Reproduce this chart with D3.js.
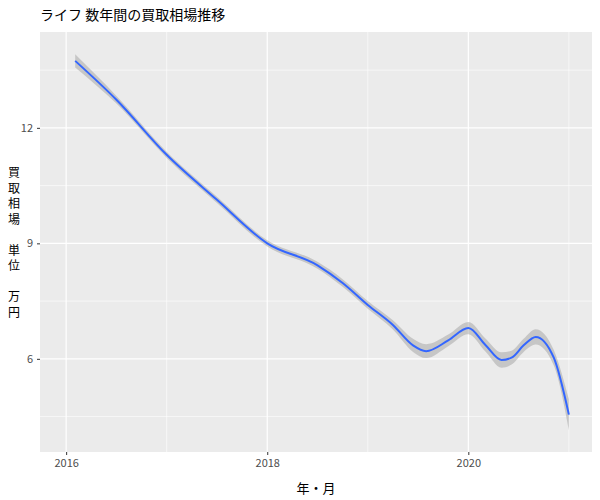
<!DOCTYPE html>
<html><head><meta charset="utf-8">
<script src="https://cdn.jsdelivr.net/npm/d3@7"></script>
<style>body{margin:0;background:#fff}text{font-family:"Noto Sans CJK JP",sans-serif}</style>
</head><body><div id="chart"></div>
<script>
// smoothed fit
var years = [2016.09, 2016.5, 2017.0, 2017.5, 2018.0, 2018.5, 2018.75, 2019.0, 2019.25, 2019.45, 2019.58, 2019.8, 2020.0, 2020.17, 2020.33, 2020.43, 2020.55, 2020.67, 2020.85, 2021.0];
var fit   = [13.74, 12.73, 11.3, 10.13, 9.0, 8.43, 7.97, 7.4, 6.88, 6.35, 6.2, 6.48, 6.8, 6.36, 5.97, 6.03, 6.35, 6.57, 6.03, 4.55];
var se    = [0.17, 0.1, 0.08, 0.08, 0.08, 0.09, 0.1, 0.1, 0.12, 0.17, 0.18, 0.15, 0.16, 0.17, 0.2, 0.18, 0.17, 0.2, 0.2, 0.4];
var xTicks = [2016, 2018, 2020];
var xMinor = [2017, 2019, 2021];
var yTicks = [6, 9, 12];
var yMinor = [4.5, 7.5, 10.5, 13.5];
var yLabel = ["買", "取", "相", "場", "", "単", "位", "", "万", "円"];

var margin = {top: 32, right: 8, bottom: 48, left: 40};
var width = 600 - margin.left - margin.right,
    height = 500 - margin.top - margin.bottom;

var svg = d3.select("#chart").append("svg").attr("width", 600).attr("height", 500);
var g = svg.append("g").attr("transform", "translate(" + margin.left + "," + margin.top + ")");

var x = d3.scaleLinear().domain([2015.74, 2021.23]).range([0, width]);
var y = d3.scaleLinear().domain([3.58, 14.49]).range([height, 0]);

g.append("rect").attr("width", width).attr("height", height).attr("fill", "#ebebeb");

g.selectAll(".vmin").data(xMinor).enter().append("line")
  .attr("x1", x).attr("x2", x).attr("y1", 0).attr("y2", height)
  .attr("stroke", "#fff").attr("stroke-width", 0.6);
g.selectAll(".hmin").data(yMinor).enter().append("line")
  .attr("y1", y).attr("y2", y).attr("x1", 0).attr("x2", width)
  .attr("stroke", "#fff").attr("stroke-width", 0.6);
g.selectAll(".vmaj").data(xTicks).enter().append("line")
  .attr("x1", x).attr("x2", x).attr("y1", 0).attr("y2", height)
  .attr("stroke", "#fff").attr("stroke-width", 1.2);
g.selectAll(".hmaj").data(yTicks).enter().append("line")
  .attr("y1", y).attr("y2", y).attr("x1", 0).attr("x2", width)
  .attr("stroke", "#fff").attr("stroke-width", 1.2);

var pts = years.map(function(d, i){ return {t: d, v: fit[i], s: se[i]}; });

g.append("path").datum(pts)
  .attr("fill", "#999").attr("opacity", 0.45)
  .attr("d", d3.area().curve(d3.curveMonotoneX)
    .x(function(d){ return x(d.t); })
    .y0(function(d){ return y(d.v - d.s); })
    .y1(function(d){ return y(d.v + d.s); }));

g.append("path").datum(pts)
  .attr("fill", "none").attr("stroke", "#3366ff").attr("stroke-width", 2)
  .attr("d", d3.line().curve(d3.curveMonotoneX)
    .x(function(d){ return x(d.t); })
    .y(function(d){ return y(d.v); }));

var xAxis = g.append("g").attr("transform", "translate(0," + height + ")")
  .call(d3.axisBottom(x).tickValues(xTicks).tickFormat(d3.format("d")).tickSize(3).tickPadding(4));
var yAxis = g.append("g")
  .call(d3.axisLeft(y).tickValues(yTicks).tickSize(3).tickPadding(4));
[xAxis, yAxis].forEach(function(a){
  a.select(".domain").remove();
  a.selectAll("line").attr("stroke", "#333");
  a.selectAll("text").attr("fill", "#4d4d4d").style("font-size", "11px");
});

svg.append("text").attr("x", 40).attr("y", 20).attr("fill", "#000")
  .style("font-size", "14px").text("ライフ 数年間の買取相場推移");
svg.append("text").attr("x", margin.left + width / 2).attr("y", 493)
  .attr("text-anchor", "middle").style("font-size", "13px").text("年・月");
svg.selectAll(".ylab").data(yLabel).enter().append("text")
  .attr("x", 14).attr("y", function(d, i){ return 177 + i * 15.5; })
  .attr("text-anchor", "middle").style("font-size", "12px").text(function(d){ return d; });
</script></body></html>
